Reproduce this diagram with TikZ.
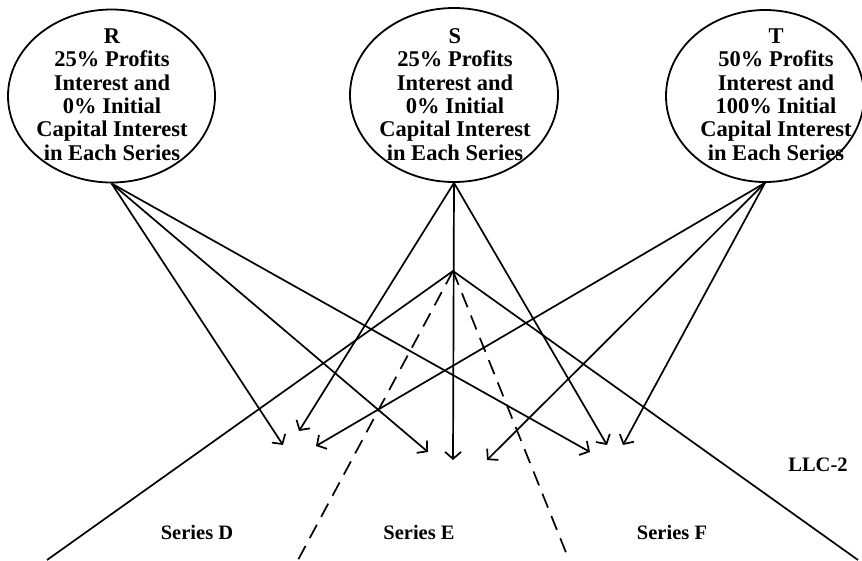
\documentclass[tikz,border=0pt]{standalone}
\usepackage{fontspec}
\setmainfont{Liberation Serif}
\usetikzlibrary{shapes.geometric,arrows.meta}
\begin{document}
\begin{tikzpicture}[x=1pt,y=-1pt,
  partner/.style={draw,ellipse,line width=1.8pt,inner sep=0pt},
  ptext/.style={inner sep=0pt,align=center,
    font=\fontsize{22.5}{23.4}\selectfont\bfseries},
  lbl/.style={font=\fontsize{20.5}{24}\selectfont\bfseries,inner sep=0pt},
  conn/.style={line width=1.7pt,-{Straight Barb[length=7pt,width=16pt,line width=1.7pt]}},
  leg/.style={line width=1.7pt},
  dleg/.style={line width=1.7pt,dash pattern=on 15pt off 9pt}]
\useasboundingbox (0,0) rectangle (862,560);
\node[partner,minimum width=207pt,minimum height=173pt] (R) at (111.5,96) {};
\node[partner,minimum width=208pt,minimum height=174pt] (S) at (454,95) {};
\node[partner,minimum width=198pt,minimum height=172pt] (T) at (765,96) {};
\node[ptext] (Rt) at (112,94.5)
  {R\\25\% Profits\\Interest and\\0\% Initial\\Capital Interest\\in Each Series};
\node[ptext] (St) at (455,94.5)
  {S\\25\% Profits\\Interest and\\0\% Initial\\Capital Interest\\in Each Series};
\node[ptext] (Tt) at (776,94.5)
  {T\\50\% Profits\\Interest and\\100\% Initial\\Capital Interest\\in Each Series};
% arrow tips
\coordinate (RD) at (283,445);
\coordinate (RE) at (428,452);
\coordinate (RF) at (590,452);
\coordinate (SD) at (299,431);
\coordinate (SE) at (453,460);
\coordinate (SF) at (607,445);
\coordinate (TD) at (316,446);
\coordinate (TE) at (487,460);
\coordinate (TF) at (623,445);
\draw[conn] (R.south) -- (RD);
\draw[conn] (R.south) -- (RE);
\draw[conn] (R.south) -- (RF);
\draw[conn] (S.south) -- (SD);
\draw[conn] (S.south) -- (SE);
\draw[conn] (S.south) -- (SF);
\draw[conn] (T.south) -- (TD);
\draw[conn] (T.south) -- (TE);
\draw[conn] (T.south) -- (TF);
% LLC triangle
\coordinate (apex) at (453,271);
\coordinate (bl) at (47,560);
\coordinate (br) at (858,560);
\coordinate (dl) at (298,560);
\coordinate (dr) at (569,560);
\draw[leg] (bl) -- (apex) -- (br);
\draw[dleg] (apex) -- (dl);
\draw[dleg] (apex) -- (dr);
\node[lbl] (llc) at (818,465) {LLC-2};
\node[lbl] (sd) at (197,532) {Series D};
\node[lbl] (se) at (419,532) {Series E};
\node[lbl] (sf) at (672,532) {Series F};
\end{tikzpicture}
\end{document}
